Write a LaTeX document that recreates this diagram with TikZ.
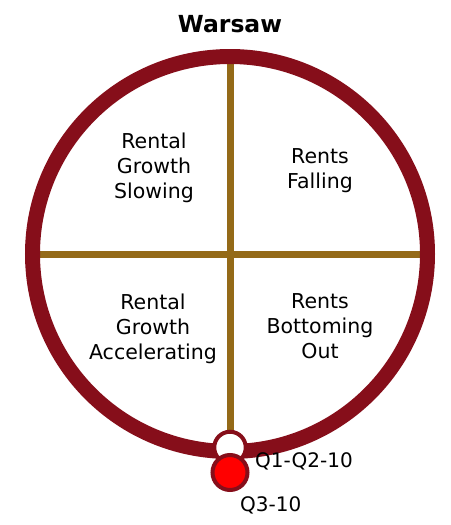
\documentclass[tikz,border=0pt]{standalone}
\usepackage{fontspec}
\setmainfont{DejaVu Sans}
\usepackage{tikz}
\usetikzlibrary{positioning}
\usepackage{xcolor}
\definecolor{ringred}{RGB}{134,14,26}
\definecolor{axisgold}{RGB}{148,106,24}
\pgfdeclarelayer{bg}
\pgfsetlayers{bg,main}

\begin{document}
\begin{tikzpicture}[x=1pt, y=-1pt,
  quadtext/.style={align=center, inner sep=0pt, font=\fontsize{20.5}{25}\selectfont},
  dotlabel/.style={anchor=base west, inner sep=0pt, font=\fontsize{20}{24}\selectfont},
  axis/.style={draw=axisgold, line width=7pt},
  marker/.style={circle, draw=ringred, line width=4pt, inner sep=0pt}]
%

%help grid
%\draw[help lines, step=25] (0,0) grid (450,525);

\useasboundingbox (0,0) rectangle (450,525);

%%% TITLE
\node [anchor=base, inner sep=0pt, font=\fontsize{23.5}{28}\selectfont\bfseries] (title) at (230,32) {Warsaw};

%%% CLOCK RING
\node [circle, draw=ringred, line width=15pt, minimum size=395pt, inner sep=0pt, outer sep=0pt] (ring) at (230,254) {};

%%% QUADRANTS
\node [quadtext] (slowing) at (154,167.5) {Rental\\Growth\\Slowing};
\node [quadtext] (falling) at (320,171) {Rents\\Falling};
\node [quadtext] (accel) at (153,329) {Rental\\Growth\\Accelerating};
\node [quadtext] (bottom) at (320,326) {Rents\\Bottoming\\Out};

%%% MARKERS
\node [marker, fill=white, minimum size=31.5pt] (q12) at (230,447.5) {};
\node [marker, fill=red, minimum size=35pt] (q3) at (230,472.5) {};

\node [dotlabel] (q12-label) at (255,467) {Q1-Q2-10};
\node [dotlabel] (q3-label) at (240,511) {Q3-10};

%%% axes under the ring
\begin{pgfonlayer}{bg}
\draw [axis] (ring.west) -- (ring.east);
\draw [axis] (ring.north) -- (q12.center);
\end{pgfonlayer}

\end{tikzpicture}
\end{document}
